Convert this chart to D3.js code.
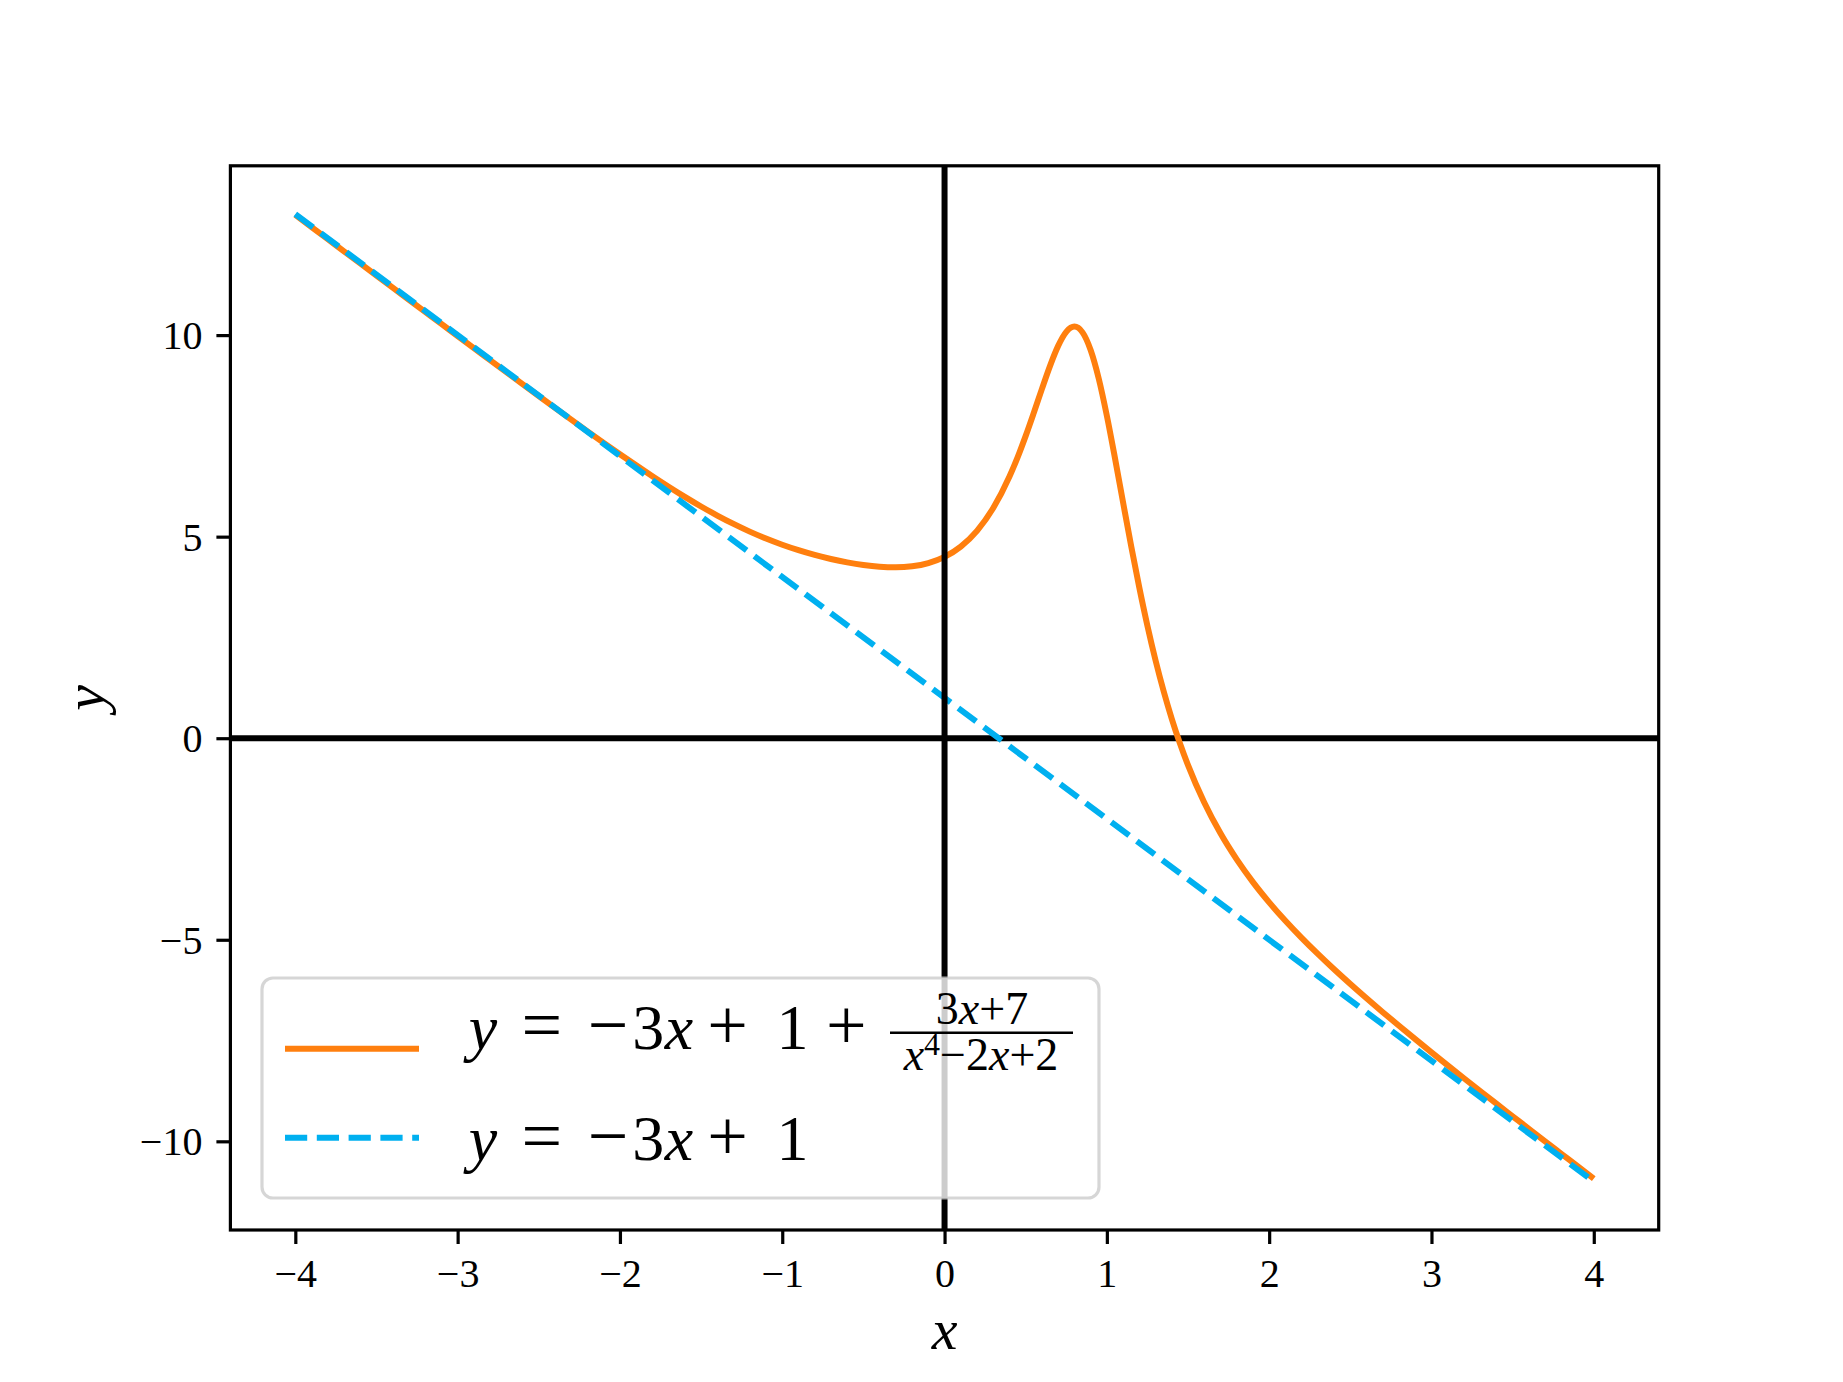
<!DOCTYPE html>
<html>
<head>
<meta charset="utf-8">
<script src="https://cdn.jsdelivr.net/npm/d3@7"></script>
<style>
  html, body { margin: 0; padding: 0; background: #fff; }
  svg { display: block; }
</style>
</head>
<body>
<script>
// ---------------- data ----------------
const curveX = [-4.0,-3.9,-3.8,-3.7,-3.6,-3.5,-3.4,-3.3,-3.2,-3.1,-3.0,-2.9,-2.8,-2.7,-2.6,-2.5,-2.4,-2.3,-2.2,-2.1,
  -2.0,-1.9,-1.8,-1.7,-1.6,-1.5,-1.4,-1.3,-1.2,-1.1,-1.0,-0.9,-0.8,-0.7,-0.6,-0.5,-0.4,-0.3,-0.2,-0.1,
  0.0,0.1,0.2,0.3,0.4,0.45,0.5,0.55,0.6,0.65,0.7,0.75,0.8,0.85,0.9,0.95,1.0,1.05,1.1,1.15,1.2,1.25,1.3,1.35,1.4,1.45,1.5,
  1.6,1.7,1.8,1.9,2.0,2.1,2.2,2.3,2.4,2.5,2.6,2.7,2.8,2.9,3.0,3.1,3.2,3.3,3.4,3.5,3.6,3.7,3.8,3.9,4.0];
const curveY = [12.981,12.681,12.380,12.079,11.779,11.478,11.178,10.877,10.577,10.277,9.978,9.678,9.380,9.082,8.785,8.489,8.195,7.903,7.613,7.327,
  7.045,6.769,6.499,6.238,5.987,5.748,5.524,5.316,5.125,4.953,4.800,4.665,4.547,4.446,4.362,4.296,4.253,4.239,4.265,4.345,
  4.500,4.755,5.145,5.710,6.491,6.968,7.500,8.074,8.666,9.238,9.732,10.080,10.211,10.068,9.630,8.921,8.000,6.949,5.848,4.762,3.734,2.787,1.931,1.165,0.482,-0.126,-0.669,
  -1.596,-2.360,-3.006,-3.569,-4.071,-4.529,-4.953,-5.352,-5.733,-6.098,-6.452,-6.796,-7.134,-7.465,-7.792,-8.115,-8.435,-8.752,-9.067,-9.379,-9.691,-10.001,-10.309,-10.617,-10.924];
const lineX = [-4, 4];
const lineY = [13, -11];
const xTicks = [-4, -3, -2, -1, 0, 1, 2, 3, 4];
const yTicks = [-10, -5, 0, 5, 10];
const xDomain = [-4.4, 4.4];
const yDomain = [-12.2, 14.2];

// ---------------- layout ----------------
const W = 1843, H = 1382;
const L = 230.4, R = 1658.7, T = 165.8, B = 1230;
const ORANGE = "#ff7f0e", BLUE = "#00b0f0";
const FONT = "'Liberation Serif', 'DejaVu Serif', serif";
const MINUS = "\u2212";
const fmt = v => (v < 0 ? MINUS + Math.abs(v) : String(v));

const svg = d3.select("body").append("svg").attr("width", W).attr("height", H);
svg.append("rect").attr("width", W).attr("height", H).attr("fill", "#fff");

const x = d3.scaleLinear().domain(xDomain).range([L, R]);
const y = d3.scaleLinear().domain(yDomain).range([B, T]);

const clip = svg.append("clipPath").attr("id", "plotclip");
clip.append("rect").attr("x", L).attr("y", T).attr("width", R - L).attr("height", B - T);
const plot = svg.append("g").attr("clip-path", "url(#plotclip)");

// horizontal axis line (below curves)
plot.append("line").attr("x1", L).attr("x2", R).attr("y1", y(0)).attr("y2", y(0))
  .attr("stroke", "#000").attr("stroke-width", 6);

const curvePts = curveX.map((v, i) => [v, curveY[i]]);
const linePts = lineX.map((v, i) => [v, lineY[i]]);
const gen = d3.line().x(d => x(d[0])).y(d => y(d[1])).curve(d3.curveMonotoneX);

plot.append("path").attr("d", gen(curvePts)).attr("fill", "none")
  .attr("stroke", ORANGE).attr("stroke-width", 6).attr("stroke-linejoin", "round");
plot.append("path").attr("d", d3.line().x(d => x(d[0])).y(d => y(d[1]))(linePts)).attr("fill", "none")
  .attr("stroke", BLUE).attr("stroke-width", 6).attr("stroke-dasharray", "22.2,9.6");

// vertical axis line (above curves)
plot.append("line").attr("x1", x(0)).attr("x2", x(0)).attr("y1", T).attr("y2", B)
  .attr("stroke", "#000").attr("stroke-width", 6);

// axes with d3
const xAxis = d3.axisBottom(x).tickValues(xTicks).tickSize(14).tickPadding(14).tickFormat(fmt);
const yAxis = d3.axisLeft(y).tickValues(yTicks).tickSize(14).tickPadding(14).tickFormat(fmt);

const gx = svg.append("g").attr("transform", `translate(0,${B})`).call(xAxis);
const gy = svg.append("g").attr("transform", `translate(${L},0)`).call(yAxis);
[gx, gy].forEach(g => {
  g.select(".domain").remove();
  g.selectAll(".tick line").attr("stroke", "#000").attr("stroke-width", 3.2);
  g.selectAll(".tick text").attr("font-family", FONT).attr("font-size", 40).attr("fill", "#000");
});
gx.selectAll(".tick text").attr("dy", null).attr("y", 57).attr("dominant-baseline", "auto");
gy.selectAll(".tick text").attr("dy", "0.34em");

// frame
svg.append("rect").attr("x", L).attr("y", T).attr("width", R - L).attr("height", B - T)
  .attr("fill", "none").attr("stroke", "#000").attr("stroke-width", 3.2);

// axis labels
svg.append("text").attr("x", (L + R) / 2).attr("y", 1349).attr("text-anchor", "middle")
  .attr("font-family", FONT).attr("font-style", "italic").attr("font-size", 58).text("x");
svg.append("text").attr("transform", `translate(104,${(T + B) / 2}) rotate(-90)`).attr("text-anchor", "middle")
  .attr("font-family", FONT).attr("font-style", "italic").attr("font-size", 58).text("y");

// ---------------- legend ----------------
const lg = svg.append("g");
lg.append("rect").attr("x", 262).attr("y", 978).attr("width", 837).attr("height", 220).attr("rx", 11)
  .attr("fill", "#fff").attr("fill-opacity", 0.8)
  .attr("stroke", "#cccccc").attr("stroke-opacity", 0.8).attr("stroke-width", 3.2);

lg.append("line").attr("x1", 285).attr("x2", 419).attr("y1", 1048.7).attr("y2", 1048.7)
  .attr("stroke", ORANGE).attr("stroke-width", 6);
lg.append("line").attr("x1", 285).attr("x2", 419).attr("y1", 1137.7).attr("y2", 1137.7)
  .attr("stroke", BLUE).attr("stroke-width", 6).attr("stroke-dasharray", "22.2,9.6");

const tokens = [
  {t: "y", cx: 483, it: true},
  {t: "=", cx: 541.7, op: true},
  {t: MINUS, cx: 608, op: true},
  {t: "3", cx: 648.3},
  {t: "x", cx: 679, it: true},
  {t: "+", cx: 727.5, op: true},
  {t: "1", cx: 792.5}
];
function drawTokens(list, base) {
  list.forEach(k => {
    lg.append("text").attr("x", k.cx).attr("y", base).attr("text-anchor", "middle")
      .attr("font-family", FONT).attr("font-size", k.op ? 72 : 64).attr("font-style", k.it ? "italic" : "normal")
      .text(k.t);
  });
}
drawTokens(tokens.concat([{t: "+", cx: 846.3, op: true}]), 1049);
drawTokens(tokens, 1160);

// fraction
const num = lg.append("text").attr("x", 982).attr("y", 1024).attr("text-anchor", "middle")
  .attr("font-family", FONT).attr("font-size", 46);
num.append("tspan").text("3");
num.append("tspan").attr("font-style", "italic").text("x");
num.append("tspan").text("+7");
lg.append("line").attr("x1", 890).attr("x2", 1073).attr("y1", 1032.7).attr("y2", 1032.7)
  .attr("stroke", "#000").attr("stroke-width", 2.6);
const den = lg.append("text").attr("x", 981).attr("y", 1070).attr("text-anchor", "middle")
  .attr("font-family", FONT).attr("font-size", 46);
den.append("tspan").attr("font-style", "italic").text("x");
den.append("tspan").attr("font-size", 32).attr("dy", -15).text("4");
den.append("tspan").attr("dy", 15).text(MINUS + "2");
den.append("tspan").attr("font-style", "italic").text("x");
den.append("tspan").text("+2");
</script>
</body>
</html>
